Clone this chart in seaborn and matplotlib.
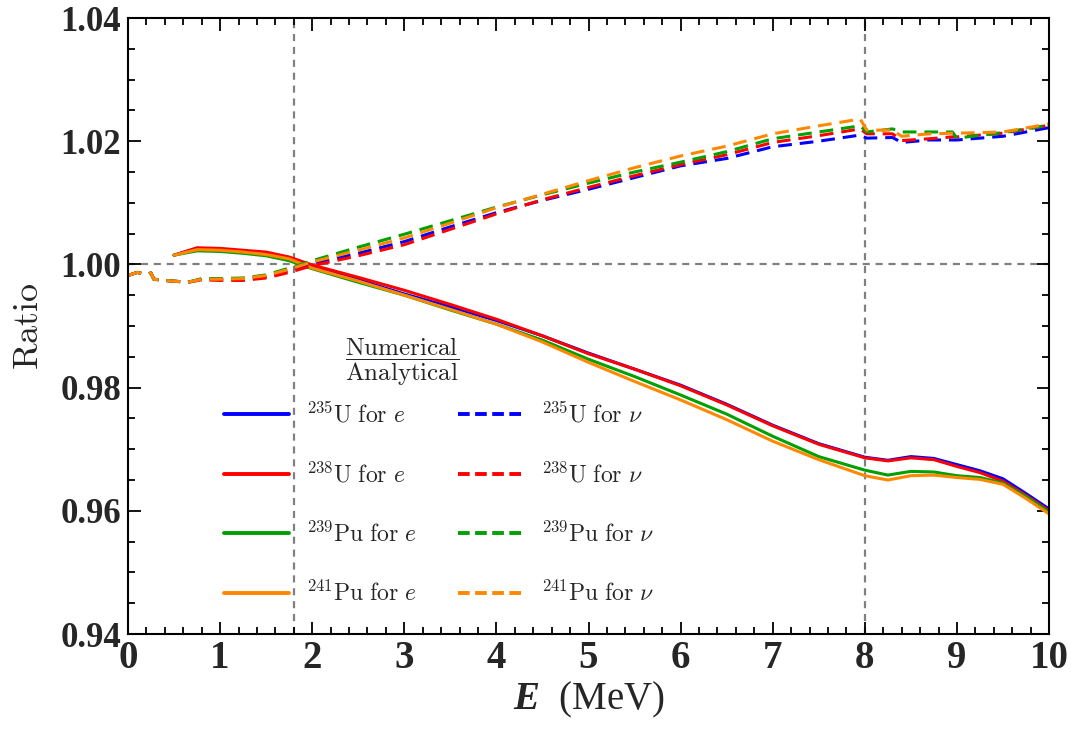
import numpy as np
import pandas as pd
import seaborn as sns
import matplotlib
matplotlib.use("Agg")
import matplotlib.pyplot as plt
from matplotlib.lines import Line2D

# ---------------- data ----------------
E_e = [0.5, 0.75, 1.0, 1.25, 1.5, 1.75, 2.0, 2.5, 3.0, 3.5, 4.0, 4.5, 5.0, 5.5,
       6.0, 6.5, 7.0, 7.5, 8.0, 8.25, 8.5, 8.75, 9.0, 9.25, 9.5, 9.75, 10.0]

U235_e = [1.0015, 1.0026, 1.0025, 1.0021, 1.0017, 1.0010, 0.9997, 0.9975, 0.9952,
          0.9931, 0.9909, 0.9884, 0.9856, 0.9830, 0.9804, 0.9773, 0.9739, 0.9709,
          0.9687, 0.9682, 0.9688, 0.9685, 0.9675, 0.9665, 0.9652, 0.9628, 0.9603]
U238_e = [1.0015, 1.0027, 1.0026, 1.0023, 1.0020, 1.0012, 0.9999, 0.9979, 0.9958,
          0.9935, 0.9911, 0.9884, 0.9855, 0.9830, 0.9803, 0.9772, 0.9738, 0.9708,
          0.9686, 0.9681, 0.9686, 0.9683, 0.9672, 0.9662, 0.9648, 0.9625, 0.9600]
Pu239_e = [1.0015, 1.0022, 1.0021, 1.0018, 1.0014, 1.0006, 0.9993, 0.9971, 0.9950,
           0.9926, 0.9903, 0.9877, 0.9846, 0.9818, 0.9788, 0.9757, 0.9721, 0.9688,
           0.9666, 0.9658, 0.9664, 0.9663, 0.9657, 0.9654, 0.9645, 0.9623, 0.9598]
Pu241_e = [1.0015, 1.0024, 1.0023, 1.0020, 1.0016, 1.0009, 0.9994, 0.9973, 0.9950,
           0.9927, 0.9903, 0.9874, 0.9841, 0.9810, 0.9780, 0.9748, 0.9713, 0.9683,
           0.9657, 0.9650, 0.9657, 0.9658, 0.9654, 0.9651, 0.9643, 0.9620, 0.9595]

E_nu = [0.0, 0.1, 0.2, 0.25, 0.28, 0.4, 0.65, 0.8, 1.0, 1.25, 1.5, 1.75, 2.0, 2.5,
        3.0, 3.5, 4.0, 4.5, 5.0, 5.5, 6.0, 6.5, 7.0, 7.5, 7.95, 8.02, 8.3, 8.4,
        8.7, 8.95, 9.0, 9.5, 10.0]

U235_nu = [0.9982, 0.9987, 0.9984, 0.9986, 0.9976, 0.9974, 0.9971, 0.9976, 0.9976,
           0.9976, 0.9980, 0.9990, 1.0002, 1.0018, 1.0037, 1.0061, 1.0084, 1.0104,
           1.0122, 1.0141, 1.0160, 1.0172, 1.0191, 1.0200, 1.0210, 1.0205, 1.0206,
           1.0198, 1.0202, 1.0202, 1.0202, 1.0208, 1.0222]
U238_nu = [0.9982, 0.9987, 0.9984, 0.9986, 0.9976, 0.9974, 0.9971, 0.9975, 0.9974,
           0.9974, 0.9978, 0.9987, 0.9998, 1.0014, 1.0032, 1.0057, 1.0082, 1.0105,
           1.0125, 1.0144, 1.0162, 1.0178, 1.0198, 1.0209, 1.0220, 1.0212, 1.0212,
           1.0201, 1.0204, 1.0207, 1.0207, 1.0213, 1.0226]
Pu239_nu = [0.9982, 0.9987, 0.9984, 0.9986, 0.9976, 0.9974, 0.9971, 0.9977, 0.9977,
            0.9978, 0.9983, 0.9994, 1.0006, 1.0028, 1.0049, 1.0071, 1.0093, 1.0113,
            1.0132, 1.0150, 1.0166, 1.0183, 1.0204, 1.0215, 1.0225, 1.0215, 1.0220,
            1.0215, 1.0215, 1.0215, 1.0205, 1.0214, 1.0226]
Pu241_nu = [0.9982, 0.9987, 0.9984, 0.9986, 0.9976, 0.9974, 0.9971, 0.9976, 0.9976,
            0.9977, 0.9982, 0.9992, 1.0004, 1.0023, 1.0043, 1.0067, 1.0092, 1.0114,
            1.0136, 1.0157, 1.0176, 1.0192, 1.0212, 1.0225, 1.0236, 1.0218, 1.0218,
            1.0208, 1.0212, 1.0213, 1.0213, 1.0215, 1.0228]

isotopes = ["235U", "238U", "239Pu", "241Pu"]
e_series = [U235_e, U238_e, Pu239_e, Pu241_e]
nu_series = [U235_nu, U238_nu, Pu239_nu, Pu241_nu]
colors = ["#0000ff", "#ff0000", "#00a000", "#ff8800"]
labels_e = [r"${}^{235}\mathrm{U\ for}\ e$", r"${}^{238}\mathrm{U\ for}\ e$",
            r"${}^{239}\mathrm{Pu\ for}\ e$", r"${}^{241}\mathrm{Pu\ for}\ e$"]
labels_nu = [r"${}^{235}\mathrm{U\ for}\ \nu$", r"${}^{238}\mathrm{U\ for}\ \nu$",
             r"${}^{239}\mathrm{Pu\ for}\ \nu$", r"${}^{241}\mathrm{Pu\ for}\ \nu$"]

x_ticks = [0, 1, 2, 3, 4, 5, 6, 7, 8, 9, 10]
y_ticks = [0.94, 0.96, 0.98, 1.00, 1.02, 1.04]
y_ticklabels = ["0.94", "0.96", "0.98", "1.00", "1.02", "1.04"]
vlines = [1.8, 8.0]
hline = 1.0

# ---------------- styling ----------------
sns.set_theme(style="ticks")
plt.rcParams["font.family"] = ["Liberation Serif", "DejaVu Serif"]
plt.rcParams["mathtext.fontset"] = "cm"
plt.rcParams["mathtext.it"] = "Liberation Serif:italic:bold"
plt.rcParams["mathtext.rm"] = "Liberation Serif"

fig = plt.figure(figsize=(10.71, 7.29), dpi=100)
ax = fig.add_axes([0.1195, 0.1303, 0.860, 0.845])

lw = 2.2
for y, c in zip(e_series, colors):
    sns.lineplot(x=E_e, y=y, ax=ax, color=c, lw=lw, legend=False, sort=False,
                 estimator=None)
for y, c in zip(nu_series, colors):
    sns.lineplot(x=E_nu, y=y, ax=ax, color=c, lw=lw, legend=False, sort=False,
                 estimator=None)
lines = ax.get_lines()
for ln in lines[4:8]:
    ln.set_dashes([4.5, 2.6])

ref_kw = dict(color="#808080", lw=1.6, dashes=[3.2, 2.6], zorder=0.5)
ax.axhline(hline, **ref_kw)
for v in vlines:
    ax.axvline(v, **ref_kw)

ax.set_xlim(0, 10)
ax.set_ylim(0.94, 1.04)
ax.set_xticks(x_ticks)
ax.set_xticklabels([str(t) for t in x_ticks])
ax.set_yticks(y_ticks)
ax.set_yticklabels(y_ticklabels)
ax.set_xticks(np.arange(0, 10.01, 0.2), minor=True)
ax.set_yticks(np.arange(0.94, 1.0401, 0.005), minor=True)
ax.tick_params(which="both", direction="in", top=True, right=True, width=1.3,
               color="black")
ax.tick_params(which="major", length=9, pad=5)
ax.tick_params(which="minor", length=5)
ax.tick_params(axis="y", which="major", labelsize=25)
ax.tick_params(axis="x", which="major", labelsize=28, pad=4)
for lab in ax.get_xticklabels() + ax.get_yticklabels():
    lab.set_fontweight("bold")
for sp in ax.spines.values():
    sp.set_linewidth(1.5)
    sp.set_color("black")

ax.set_xlabel(r"$E$  (MeV)", fontsize=28, family="Liberation Serif",
              math_fontfamily="custom", labelpad=2)
ax.set_ylabel(r"$\mathrm{Ratio}$", fontsize=26, labelpad=10)

# fraction title
ax.text(0.2975, 0.443, r"$\dfrac{\mathrm{Numerical}}{\mathrm{Analytical}}$",
        transform=ax.transAxes, ha="center", va="center", fontsize=18)

handles = [Line2D([], [], color=c, lw=2.8) for c in colors] + \
          [Line2D([], [], color=c, lw=2.8, dashes=[3.0, 1.4]) for c in colors]
leg = ax.legend(handles, labels_e + labels_nu, ncol=2, loc="upper left",
                bbox_to_anchor=(0.104, 0.376), frameon=False, fontsize=17,
                handlelength=2.75, handletextpad=0.75, labelspacing=1.45,
                columnspacing=1.75, borderpad=0, borderaxespad=0)

fig.savefig("out.png", dpi=100)
